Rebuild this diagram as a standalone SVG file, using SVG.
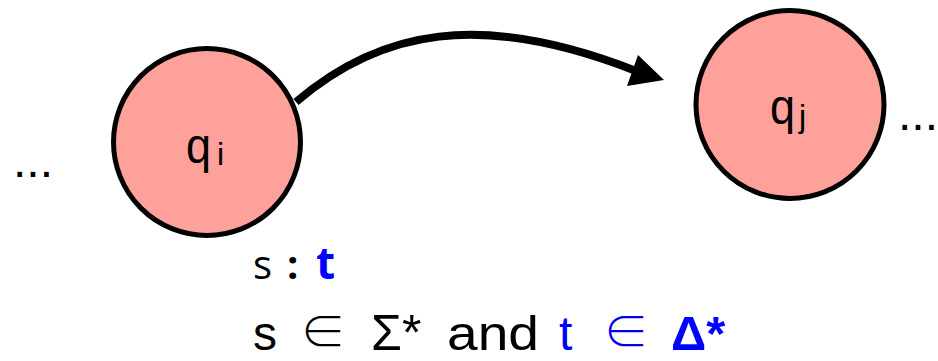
<svg xmlns="http://www.w3.org/2000/svg" width="938" height="361" viewBox="0 0 938 361">
<style>
.state{fill:#FFA19B;stroke:#000;stroke-width:5}
.lbl{font-family:"Liberation Sans",Arial,sans-serif;fill:#000}
.txt{font-family:"Open Sans","Noto Sans",sans-serif;fill:#000}
.txt2{font-family:"Liberation Sans",Arial,sans-serif;fill:#000}
.sym{font-family:"Noto Sans CJK JP","DejaVu Sans",sans-serif;font-weight:300}
.blue{fill:#0000FF}
.edge{fill:none;stroke:#000;stroke-width:8}
</style>
<rect width="938" height="361" fill="#fff"/>
<g id="dots-left"><text class="lbl" x="13" y="177" font-size="48">...</text></g>
<g id="connectors">
<path class="edge" d="M296,102 C380,30 480,10 636,71"/>
<polygon points="664,80 638,55 627,86" fill="#000"/>
</g>
<g id="qi">
<circle class="state" cx="207" cy="142" r="93.5"/>
<text class="lbl" x="186" y="163" font-size="50" transform="translate(186,0) scale(0.9,1) translate(-186,0)">q</text>
<text class="lbl" x="217" y="165" font-size="32">i</text>
</g>
<g id="qj">
<circle class="state" cx="790" cy="104.5" r="94"/>
<text class="lbl" x="770" y="124" font-size="50" transform="translate(770,0) scale(0.9,1) translate(-770,0)">q</text>
<text class="lbl" x="799" y="127" font-size="32">j</text>
</g>
<g id="dots-right"><text class="lbl" x="938" y="130" font-size="48" text-anchor="end">...</text></g>
<g id="label">
<text class="txt" x="253" y="279" font-size="40">s</text>
<text class="txt" x="287" y="279" font-size="40" font-weight="bold">:</text>
<text class="txt blue" x="316" y="279" font-size="44" font-weight="bold">t</text>
<text class="txt2" x="253" y="350" font-size="48">s</text>
<text class="sym" x="300" y="348" font-size="46">∈</text>
<text class="txt2" x="371" y="350" font-size="50">Σ*</text>
<text class="txt2" x="447" y="350" font-size="49" textLength="92" lengthAdjust="spacingAndGlyphs">and</text>
<text class="txt2 blue" x="559" y="350" font-size="48">t</text>
<text class="sym blue" x="603" y="348" font-size="46">∈</text>
<text class="txt2 blue" x="671" y="350" font-size="49" font-weight="bold">Δ*</text>
</g>
</svg>
